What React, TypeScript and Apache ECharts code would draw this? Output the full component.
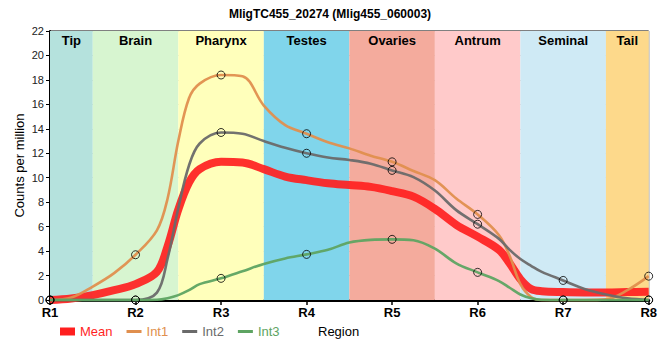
import React, { useEffect, useRef } from "react";
import * as echarts from "echarts";

const chartTitle = "MligTC455_20274 (Mlig455_060003)";
const regionTicks = ["R1", "R2", "R3", "R4", "R5", "R6", "R7", "R8"];
const yTicks = [0, 2, 4, 6, 8, 10, 12, 14, 16, 18, 20, 22];

const bandNames = ["Tip", "Brain", "Pharynx", "Testes", "Ovaries", "Antrum", "Seminal", "Tail"];
const bandStarts = [1, 1.5, 2.5, 3.5, 4.5, 5.5, 6.5, 7.5];
const bandEnds = [1.5, 2.5, 3.5, 4.5, 5.5, 6.5, 7.5, 8];
const bandColors = ["#b5e2dd", "#d7f5d0", "#ffffbb", "#80d5eb", "#f4ab9d", "#ffcaca", "#cfeaf5", "#fdd98b"];

const positions = [
  1, 1.25, 1.5, 1.75, 2, 2.25, 2.375, 2.5, 2.625, 2.75, 3, 3.25, 3.5, 3.75, 4, 4.25, 4.5, 4.75,
  5, 5.25, 5.5, 5.75, 6, 6.25, 6.375, 6.5, 6.625, 6.75, 7, 7.25, 7.5, 7.75, 8,
];

const meanValues = [
  0, 0.12, 0.4, 0.8, 1.3, 2.3, 4.4, 7.4, 9.6, 10.7, 11.3, 11.25, 10.7, 10.1, 9.8, 9.55, 9.4, 9.25,
  8.9, 8.45, 7.45, 6.15, 5.18, 4.1, 3.0, 1.7, 0.9, 0.72, 0.65, 0.62, 0.62, 0.65, 0.68,
];
const int1Values = [
  0, 0.2, 1.1, 2.2, 3.7, 5.7, 8.3, 13.0, 16.5, 17.7, 18.4, 18.3, 15.9, 14.3, 13.6, 12.9, 12.4, 11.8,
  11.3, 10.55, 9.8, 8.3, 7.0, 5.3, 3.6, 1.3, 0.25, 0, 0, 0, 0.05, 0.8, 1.95,
];
const int2Values = [
  0, 0, 0, 0, 0, 0.6, 3.4, 7.5, 11.0, 12.8, 13.7, 13.6, 13.0, 12.45, 12.0, 11.65, 11.45, 11.15,
  10.6, 10.05, 8.95, 7.35, 6.2, 5.0, 4.1, 3.35, 2.8, 2.3, 1.6, 0.9, 0.45, 0.13, 0,
];
const int3Values = [
  0, 0, 0, 0, 0, 0.02, 0.15, 0.4, 0.8, 1.3, 1.77, 2.35, 2.95, 3.4, 3.73, 4.1, 4.7, 4.92,
  4.96, 4.88, 4.2, 3.0, 2.26, 1.55, 1.0, 0.45, 0.15, 0.02, 0, 0, 0, 0, 0,
];

const seriesNames = ["Mean", "Int1", "Int2", "Int3"];
const seriesColors = ["#ff1f1f", "#e08f4e", "#6a6a6a", "#5ea462"];
const seriesValues = [meanValues, int1Values, int2Values, int3Values];

const FONT = "'Liberation Sans', Arial, Helvetica, sans-serif";

export default function App() {
  const ref = useRef<HTMLDivElement>(null);

  useEffect(() => {
    document.body.style.margin = "0";
    if (!ref.current) return;
    const chart = echarts.init(ref.current, undefined, { renderer: "svg" });

    const toPairs = (vals: number[]) => positions.map((x, i) => [x, vals[i]]);
    const toMarkers = (vals: number[]) =>
      positions.map((x, i) => [x, vals[i]]).filter((p) => Number.isInteger(p[0]));

    const lineSeries: any[] = seriesNames.map((name, k) => ({
      name,
      type: "line",
      data: toPairs(seriesValues[k]),
      smooth: 0.35,
      showSymbol: false,
      symbol: "none",
      clip: false,
      z: 3 + k,
      lineStyle: {
        color: seriesColors[k],
        width: k === 0 ? 8 : 2.6,
        opacity: k === 0 ? 0.92 : 0.95,
      },
      itemStyle: { color: seriesColors[k] },
    }));

    const markerSeries: any[] = seriesNames.slice(1).map((name, k) => ({
      name: name + " points",
      type: "scatter",
      data: toMarkers(seriesValues[k + 1]),
      symbol: "circle",
      symbolSize: 8,
      clip: false,
      z: 10,
      itemStyle: { color: "rgba(0,0,0,0)", borderColor: "#000", borderWidth: 1 },
      silent: true,
    }));

    const bandSeries = {
      name: "bands",
      type: "line",
      data: [[1, 0]],
      symbol: "none",
      lineStyle: { opacity: 0 },
      z: -1,
      silent: true,
      markArea: {
        silent: true,
        label: {
          position: "insideTop",
          distance: 3,
          fontWeight: "bold",
          fontSize: 13,
          color: "#000",
          fontFamily: FONT,
        },
        data: bandNames.map((n, i) => [
          { name: n, xAxis: bandStarts[i], itemStyle: { color: bandColors[i], opacity: 1 } },
          { xAxis: bandEnds[i] },
        ]),
      },
    };

    const option: any = {
      animation: false,
      textStyle: { fontFamily: FONT },
      title: {
        text: chartTitle,
        left: "center",
        top: 3,
        textStyle: { fontSize: 12, fontWeight: "bold", color: "#000", fontFamily: FONT },
      },
      legend: {
        left: 55,
        top: 320,
        itemWidth: 15,
        itemHeight: 8,
        itemGap: 14,
        symbolKeepAspect: true,
        selectedMode: false,
        textStyle: { fontSize: 13, fontFamily: FONT },
        data: seriesNames.map((n, k) => ({
          name: n,
          icon: k === 0 ? "rect" : "path://M0,0h15v3h-15z",
          textStyle: { color: seriesColors[k] },
        })),
      },
      grid: {
        left: 50,
        right: 9,
        top: 31,
        bottom: 60,
        show: true,
        borderColor: "#000",
        borderWidth: 1,
        backgroundColor: "transparent",
      },
      xAxis: {
        type: "value",
        min: 1,
        max: 8,
        interval: 1,
        axisLine: { show: true, lineStyle: { color: "#000", width: 3 } },
        axisTick: { show: true, length: 5, lineStyle: { color: "#000", width: 1.5 } },
        axisLabel: {
          formatter: (v: number) => regionTicks[Math.round(v) - 1] ?? "",
          fontWeight: "bold",
          fontSize: 13,
          color: "#000",
          margin: 6,
          fontFamily: FONT,
        },
        splitLine: { show: true, lineStyle: { color: "#c8c8c8", width: 1 } },
      },
      yAxis: {
        type: "value",
        min: yTicks[0],
        max: yTicks[yTicks.length - 1],
        interval: 2,
        name: "Counts per million",
        nameLocation: "middle",
        nameGap: 24,
        nameMoveOverlap: false,
        nameTextStyle: { fontSize: 13, color: "#000", fontFamily: FONT },
        axisLine: { show: true, lineStyle: { color: "#000", width: 2 } },
        axisTick: { show: true, length: 4, lineStyle: { color: "#000", width: 1 } },
        axisLabel: { fontSize: 11, color: "#222", margin: 6, fontFamily: FONT },
        splitLine: { show: true, lineStyle: { color: "#c8c8c8", width: 1 } },
      },
      graphic: [
        {
          type: "text",
          left: 318,
          top: 325,
          style: { text: "Region", fontSize: 13, fill: "#000", fontFamily: FONT },
        },
      ],
      series: [bandSeries, ...lineSeries, ...markerSeries],
    };

    chart.setOption(option);
    return () => chart.dispose();
  }, []);

  return <div ref={ref} style={{ width: 660, height: 360 }} />;
}
